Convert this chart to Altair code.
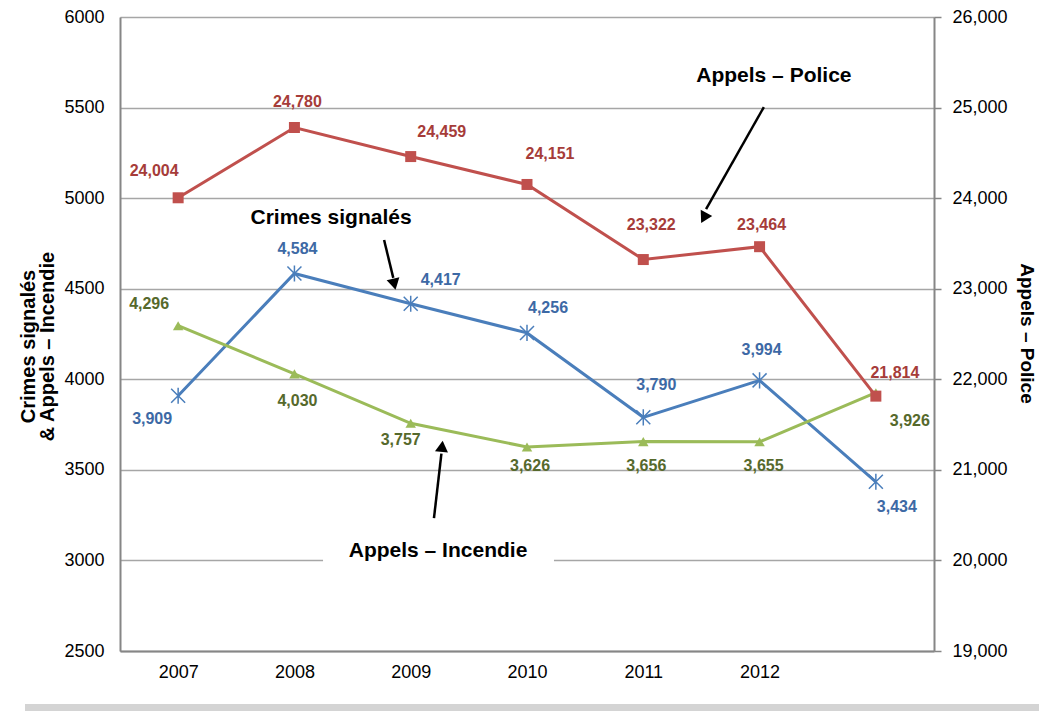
import json
import altair as alt
import pandas as pd

# ---------------- data ----------------
years = ["2007", "2008", "2009", "2010", "2011", "2012", ""]
crimes = [3909, 4584, 4417, 4256, 3790, 3994, 3434]
incendie = [4296, 4030, 3757, 3626, 3656, 3655, 3926]
police = [24004, 24780, 24459, 24151, 23322, 23464, 21814]

left_ticks = [2500, 3000, 3500, 4000, 4500, 5000, 5500, 6000]
right_ticks = [19000, 20000, 21000, 22000, 23000, 24000, 25000, 26000]

# ---------------- styling (pixel offsets of the value labels) ----------------
crimes_off = [(-26, 23), (3, -24), (30, -24), (21, -25), (13, -32), (2, -30), (21, 25)]
incendie_off = [(-29, -22), (3, 27), (-10, 17), (3, 19), (3, 24), (4, 24), (34, 28)]
police_off = [(-24, -27), (3, -25), (31, -25), (23, -30), (8, -35), (2, -22), (19, -23)]

W, H = 814, 634
PAD = {"left": 112, "top": 9, "right": 105, "bottom": 60}
BAND = W / len(years)
L_MIN, L_MAX = left_ticks[0], left_ticks[-1]
R_MIN, R_MAX = right_ticks[0], right_ticks[-1]
L_UPP = (L_MAX - L_MIN) / H
R_UPP = (R_MAX - R_MIN) / H

RED, RED_T = "#C0504D", "#A63C39"
BLUE, BLUE_T = "#4A7EBB", "#3D69A5"
GREEN, GREEN_T = "#9BBB59", "#56692C"
FONT = "Liberation Sans, Arial, sans-serif"
NARROW = "Liberation Sans Narrow, Arial Narrow, Liberation Sans, sans-serif"
STAR = "M-1,-1L1,1M-1,1L1,-1M0,-1.15L0,1.15"


def frame(vals, offs, upp):
    return pd.DataFrame({
        "i": list(range(len(vals))),
        "v": vals,
        "lab": [f"{v:,}" for v in vals],
        "lx": [i + o[0] / BAND for i, o in enumerate(offs)],
        "ly": [v - o[1] * upp for v, o in zip(vals, offs)],
    })


df_c = frame(crimes, crimes_off, L_UPP)
df_f = frame(incendie, incendie_off, L_UPP)
df_p = frame(police, police_off, R_UPP)

x_scale = alt.Scale(domain=[-0.5, len(years) - 0.5], nice=False, zero=False)
yl_scale = alt.Scale(domain=[L_MIN, L_MAX], nice=False, zero=False)
yr_scale = alt.Scale(domain=[R_MIN, R_MAX], nice=False, zero=False)

x_axis = alt.Axis(
    values=list(range(len(years) - 1)), labelExpr=json.dumps(years) + "[datum.value]",
    title=None, grid=False, ticks=False, domainColor="#868686", domainWidth=2,
    labelFont=FONT, labelFontSize=18, labelColor="#000000", labelPadding=12,
)
yl_axis = alt.Axis(
    orient="left", values=left_ticks, format="d", grid=True, gridColor="#A6A6A6",
    gridWidth=1.5, ticks=False, domainColor="#868686", domainWidth=2,
    labelFont=FONT, labelFontSize=18, labelColor="#000000", labelPadding=16,
    title=["Crimes signalés", "& Appels – Incendie"], titleFont=NARROW,
    titleFontSize=20, titleFontWeight="bold", titleColor="#000000",
    titlePadding=6, titleLineHeight=19, titleY=329,
)
yr_axis = alt.Axis(
    orient="right", values=right_ticks, format=",.0f", grid=False, ticks=True,
    tickSize=7, tickColor="#868686", tickWidth=1.5, domainColor="#868686", domainWidth=2,
    labelFont=FONT, labelFontSize=18, labelColor="#000000", labelPadding=11,
    title="Appels – Police", titleFont=NARROW, titleFontSize=19,
    titleFontWeight="bold", titleColor="#000000", titlePadding=9, titleY=316,
)


def XX(f):
    return alt.X(f, scale=x_scale, axis=x_axis)


def YL(f):
    return alt.Y(f, scale=yl_scale, axis=yl_axis)


def YR(f):
    return alt.Y(f, scale=yr_scale, axis=yr_axis)


def series(df, color, tcolor, shape, size, filled, Y):
    base = alt.Chart(df)
    line = base.mark_line(color=color, strokeWidth=3).encode(x=XX("i:Q"), y=Y("v:Q"))
    pts = base.mark_point(
        shape=shape, size=size, filled=filled, color=color, opacity=1,
        strokeWidth=1.5 if not filled else 0,
    ).encode(x=XX("i:Q"), y=Y("v:Q"))
    txt = base.mark_text(
        font=FONT, fontSize=16, fontWeight="bold", color=tcolor,
        align="center", baseline="middle",
    ).encode(x=XX("lx:Q"), y=Y("ly:Q"), text="lab:N")
    return [line, pts, txt]


# ---------------- annotations (in data coordinates of the left axis) ----------------
ann_text = pd.DataFrame({
    "x": [5.123, 1.315, 2.235],
    "y": [5674, 4890, 3052],
    "t": ["Appels – Police", "Crimes signalés", "Appels – Incendie"],
})
arrows = pd.DataFrame({
    "g": ["p", "p", "c", "c", "f", "f"],
    "o": [0, 1, 0, 1, 0, 1],
    "x": [5.037, 4.540, 1.771, 1.850, 2.200, 2.264],
    "y": [5503, 4940, 4769, 4560, 3234, 3590],
})
heads = pd.DataFrame({
    "x": [4.528, 1.855, 2.268],
    "y": [4900, 4535, 3620],
    "a": [208, 167, 6],
})
mask = pd.DataFrame({"x": [1.246], "x2": [3.232], "y": [2965], "y2": [3035]})

mask_l = alt.Chart(mask).mark_rect(color="white").encode(
    x=XX("x:Q"), x2="x2:Q", y=YL("y:Q"), y2="y2:Q")
arrow_l = alt.Chart(arrows).mark_line(color="black", strokeWidth=2.5).encode(
    x=XX("x:Q"), y=YL("y:Q"), detail="g:N", order="o:Q")
head_l = alt.Chart(heads).mark_point(shape="triangle", filled=True, size=170,
                                     color="black", opacity=1).encode(
    x=XX("x:Q"), y=YL("y:Q"), angle=alt.Angle("a:Q", scale=None))
ann_l = alt.Chart(ann_text).mark_text(font=FONT, fontSize=21, fontWeight="bold",
                                      color="black", align="center", baseline="middle").encode(
    x=XX("x:Q"), y=YL("y:Q"), text="t:N")

bar = alt.Chart(mask).mark_rect(color="#D4D4D4", clip=False).encode(
    x=alt.value(25 - 8 - PAD["left"]), x2=alt.value(W + PAD["right"]),
    y=alt.value(H + 53), y2=alt.value(H + PAD["bottom"]))

left = alt.layer(
    *series(df_c, BLUE, BLUE_T, STAR, 196, False, YL),
    *series(df_f, GREEN, GREEN_T, "triangle-up", 110, True, YL),
    mask_l, arrow_l, head_l, ann_l, bar,
)
right = alt.layer(
    *series(df_p, RED, RED_T, "square", 121, True, YR),
)

chart = alt.layer(left, right).resolve_scale(y="independent").properties(
    width=W, height=H,
    autosize=alt.AutoSizeParams(type="none"),
    padding=PAD,
).configure_view(strokeWidth=0).configure(background="white")

chart.save("out.html", embed_options={"renderer": "svg", "actions": False})
